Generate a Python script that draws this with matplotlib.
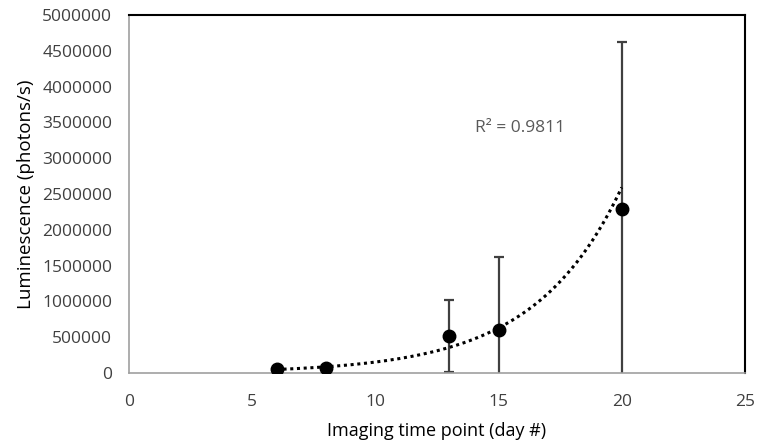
import numpy as np
import matplotlib.pyplot as plt

plt.rcParams['font.family'] = ['Open Sans', 'DejaVu Sans']

# data
days = [6, 8, 13, 15, 20]
lum = [50000, 70000, 517000, 600000, 2290000]
lum_err = [0, 0, 500000, 1020000, 2330000]
r2_text = 'R² = 0.9811'

# exponential trendline (as in Excel), fitted on the points
b, ln_a = np.polyfit(days, np.log(lum), 1)
xs = np.linspace(min(days), max(days), 200)
ys = np.exp(ln_a) * np.exp(b * xs)

fig = plt.figure(figsize=(7.57, 4.45), dpi=100)
ax = fig.add_axes([0.1704, 0.1618, 0.8136, 0.8045])

ax.errorbar(days, lum, yerr=lum_err, fmt='none', ecolor='#404040',
            elinewidth=1.6, capsize=3.5, capthick=1.6, zorder=2)
ax.plot(xs, ys, linestyle=(0, (1, 1.2)), color='black', linewidth=2.2, zorder=3)
ax.plot(days, lum, 'o', color='black', markersize=9, zorder=4)

ax.text(15.87, 3420000, r2_text, color='#595959', fontsize=12.5, ha='center', va='center')

ax.set_xlim(0, 25)
ax.set_ylim(0, 5000000)
ax.set_xticks(range(0, 26, 5))
ax.set_yticks(range(0, 5000001, 500000))
ax.tick_params(axis='y', length=0, labelsize=12.5, colors='#404040', pad=12)
ax.tick_params(axis='x', length=0, labelsize=12.5, colors='#404040', pad=15)
ax.ticklabel_format(style='plain', axis='y')

ax.set_xlabel('Imaging time point (day #)', fontsize=13, color='black', labelpad=9)
ax.set_ylabel('Luminescence (photons/s)', fontsize=13.5, color='black', labelpad=5)

for s in ['top', 'right']:
    ax.spines[s].set_color('black')
    ax.spines[s].set_linewidth(1.5)
for s in ['left', 'bottom']:
    ax.spines[s].set_color('#a0a0a0')
    ax.spines[s].set_linewidth(1.2)

fig.savefig('out.png', dpi=100)
